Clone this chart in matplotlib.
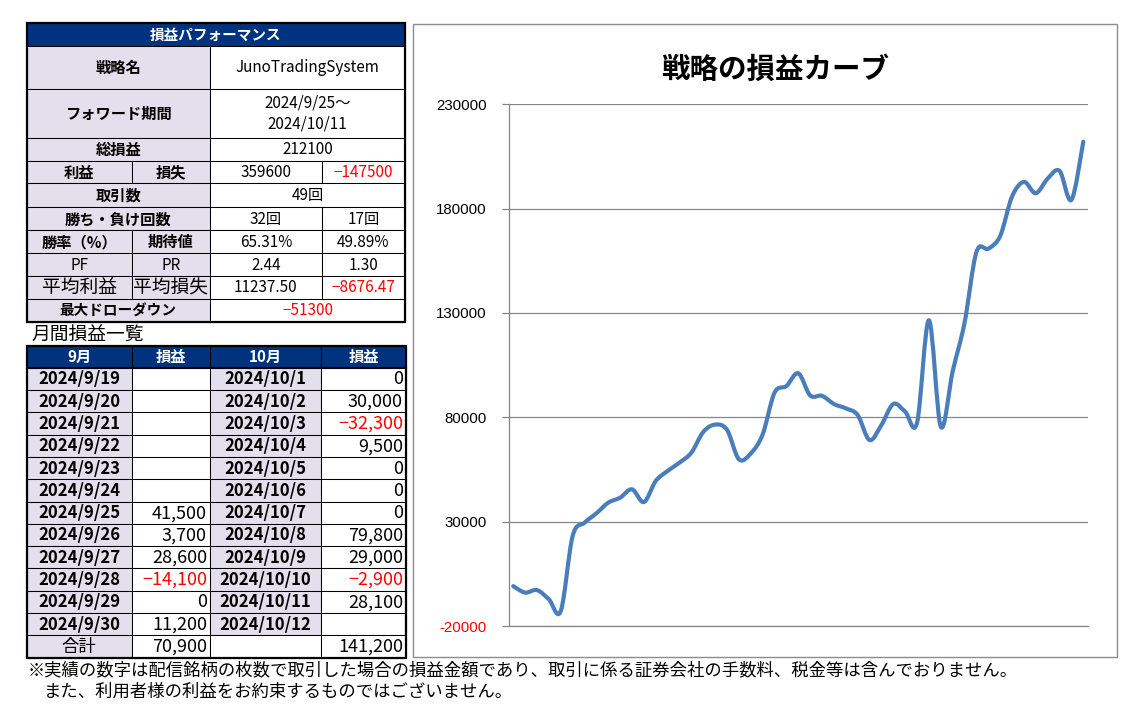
import numpy as np
import matplotlib
matplotlib.use('Agg')
import matplotlib.pyplot as plt
from matplotlib.patches import Rectangle, PathPatch
from matplotlib.path import Path

plt.rcParams['font.family'] = ['Noto Sans CJK JP', 'DejaVu Sans']

# ---- data ----
summary_title = '損益パフォーマンス'
strategy_name = 'JunoTradingSystem'
forward_period = '2024/9/25～\n2024/10/11'
total_pl = '212100'
profit, loss = '359600', '−147500'
n_trades = '49回'
wins, losses = '32回', '17回'
win_rate, expectancy = '65.31%', '49.89%'
pf, pr = '2.44', '1.30'
avg_profit, avg_loss = '11237.50', '−8676.47'
max_dd = '−51300'

sep_dates = ['2024/9/%d' % d for d in range(19, 31)]
sep_pl = [None, None, None, None, None, None, 41500, 3700, 28600, -14100, 0, 11200]
oct_dates = ['2024/10/%d' % d for d in range(1, 13)]
oct_pl = [0, 30000, -32300, 9500, 0, 0, 0, 79800, 29000, -2900, 28100, None]
sep_total, oct_total = 70900, 141200

# cumulative P&L per trade
equity = [-900, -4000, -2800, -7200, -12800, 23100, 29500, 34000, 39100, 41500,
          45500, 39400, 49500, 54300, 58300, 63100, 73000, 76500, 74000, 59900,
          62700, 71800, 91800, 95000, 101100, 90500, 90300, 86400, 84300, 81100,
          69100, 76300, 86400, 82700, 77400, 126500, 75500, 102000, 125300, 159200,
          160800, 166900, 185800, 192800, 187400, 194400, 198100, 184200, 212100]
yticks = [-20000, 30000, 80000, 130000, 180000, 230000]

NAVY = '#00337f'
LAV = '#e4dfec'
RED = '#ff0000'

W, H = 1126, 704
fig = plt.figure(figsize=(W / 100, H / 100), dpi=100)
bg = fig.add_axes([0, 0, 1, 1])
bg.set_xlim(0, W)
bg.set_ylim(H, 0)
bg.axis('off')


def cell(x0, x1, y0, y1, text='', fill='white', color='black', bold=False,
         size=11, ha='center'):
    bg.add_patch(Rectangle((x0, y0), x1 - x0, y1 - y0, facecolor=fill,
                           edgecolor='black', lw=0.75))
    if text == '':
        return
    if ha == 'center':
        tx = (x0 + x1) / 2
    elif ha == 'right':
        tx = x1 - 3
    else:
        tx = x0 + 6
    bg.text(tx, (y0 + y1) / 2 + 0.5, text, ha=ha, va='center', color=color,
            fontsize=size, fontweight='bold' if bold else 'normal',
            linespacing=1.3)


def fmt(v):
    if v is None:
        return ''
    return f'{v:,}'.replace('-', '−')


# ---- top summary table ----
X = [26.7, 131.7, 210, 321.7, 405]
Y = [22.5, 45.7, 89, 137.7, 160.7, 183.3, 207.3, 230, 253.3, 276, 299, 321.7]

cell(X[0], X[4], Y[0], Y[1], summary_title, NAVY, 'white', True, 10.5)
cell(X[0], X[2], Y[1], Y[2], '戦略名', LAV, bold=True)
cell(X[2], X[4], Y[1], Y[2], strategy_name)
cell(X[0], X[2], Y[2], Y[3], 'フォワード期間', LAV, bold=True)
cell(X[2], X[4], Y[2], Y[3], forward_period)
cell(X[0], X[2], Y[3], Y[4], '総損益', LAV, bold=True)
cell(X[2], X[4], Y[3], Y[4], total_pl)
cell(X[0], X[1], Y[4], Y[5], '利益', LAV, bold=True)
cell(X[1], X[2], Y[4], Y[5], '損失', LAV, bold=True)
cell(X[2], X[3], Y[4], Y[5], profit)
cell(X[3], X[4], Y[4], Y[5], loss, color=RED)
cell(X[0], X[2], Y[5], Y[6], '取引数', LAV, bold=True)
cell(X[2], X[4], Y[5], Y[6], n_trades)
cell(X[0], X[2], Y[6], Y[7], '勝ち・負け回数', LAV, bold=True)
cell(X[2], X[3], Y[6], Y[7], wins)
cell(X[3], X[4], Y[6], Y[7], losses)
cell(X[0], X[1], Y[7], Y[8], '勝率（%）', LAV, bold=True)
cell(X[1], X[2], Y[7], Y[8], '期待値', LAV, bold=True)
cell(X[2], X[3], Y[7], Y[8], win_rate)
cell(X[3], X[4], Y[7], Y[8], expectancy)
cell(X[0], X[1], Y[8], Y[9], 'PF', LAV)
cell(X[1], X[2], Y[8], Y[9], 'PR', LAV)
cell(X[2], X[3], Y[8], Y[9], pf)
cell(X[3], X[4], Y[8], Y[9], pr)
cell(X[0], X[1], Y[9], Y[10], '平均利益', LAV, size=13.5)
cell(X[1], X[2], Y[9], Y[10], '平均損失', LAV, size=13.5)
cell(X[2], X[3], Y[9], Y[10], avg_profit)
cell(X[3], X[4], Y[9], Y[10], avg_loss, color=RED)
cell(X[0], X[2], Y[10], Y[11], '最大ドローダウン', LAV, bold=True, size=10.5)
cell(X[2], X[4], Y[10], Y[11], max_dd, color=RED)
bg.add_patch(Rectangle((X[0], Y[0]), X[4] - X[0], Y[11] - Y[0], fill=False,
                       edgecolor='black', lw=1.6))

# ---- monthly table ----
bg.text(31, 335, '月間損益一覧', ha='left', va='center', fontsize=13.5)
MX = [26.7, 131.7, 210, 321, 406]
top, head_h, row_h = 345.7, 22, 22.3
cell(MX[0], MX[1], top, top + head_h, '9月', NAVY, 'white', True)
cell(MX[1], MX[2], top, top + head_h, '損益', NAVY, 'white', True)
cell(MX[2], MX[3], top, top + head_h, '10月', NAVY, 'white', True)
cell(MX[3], MX[4], top, top + head_h, '損益', NAVY, 'white', True)
y = top + head_h
for i in range(len(sep_dates)):
    cell(MX[0], MX[1], y, y + row_h, sep_dates[i], LAV, bold=True, size=12)
    cell(MX[1], MX[2], y, y + row_h, fmt(sep_pl[i]),
         color=RED if (sep_pl[i] or 0) < 0 else 'black', size=13, ha='right')
    cell(MX[2], MX[3], y, y + row_h, oct_dates[i], LAV, bold=True, size=12)
    cell(MX[3], MX[4], y, y + row_h, fmt(oct_pl[i]),
         color=RED if (oct_pl[i] or 0) < 0 else 'black', size=13, ha='right')
    y += row_h
cell(MX[0], MX[1], y, y + row_h, '合計', LAV, size=12.5)
cell(MX[1], MX[2], y, y + row_h, fmt(sep_total), size=13, ha='right')
cell(MX[2], MX[3], y, y + row_h)
cell(MX[3], MX[4], y, y + row_h, fmt(oct_total), size=13, ha='right')
bg.plot([MX[0], MX[4]], [top + head_h, top + head_h], color='black', lw=1.5)
bg.add_patch(Rectangle((MX[0], top), MX[4] - MX[0], y + row_h - top, fill=False,
                       edgecolor='black', lw=1.6))

bg.text(28, 670, '※実績の数字は配信銘柄の枚数で取引した場合の損益金額であり、取引に係る証券会社の手数料、税金等は含んでおりません。',
        ha='left', va='center', fontsize=12.5)
bg.text(44, 692, 'また、利用者様の利益をお約束するものではございません。',
        ha='left', va='center', fontsize=12.5)

# ---- chart ----
bg.add_patch(Rectangle((413.3, 24.3), 1116.7 - 413.3, 657.3 - 24.3,
                       facecolor='white', edgecolor='#8c8c8c', lw=1))
bg.text(775, 70, '戦略の損益カーブ', ha='center', va='center', fontsize=20.5,
        fontweight='bold')

ax = fig.add_axes([508.5 / W, 1 - 626 / H, (1088.3 - 508.5) / W, (626 - 104.3) / H])
ax.patch.set_alpha(0)

# smoothed line (Catmull-Rom style bezier, like Excel's smooth line)
xs = np.arange(len(equity), dtype=float)
ys = np.array(equity, dtype=float)
pts = np.column_stack([xs, ys])
ext = np.vstack([pts[0], pts, pts[-1]])
verts = [pts[0]]
codes = [Path.MOVETO]
for i in range(len(pts) - 1):
    c1 = pts[i] + (ext[i + 2] - ext[i]) / 6
    c2 = pts[i + 1] - (ext[i + 3] - ext[i + 1]) / 6
    verts += [c1, c2, pts[i + 1]]
    codes += [Path.CURVE4] * 3
ax.add_patch(PathPatch(Path(verts, codes), fill=False, edgecolor='#4a7ebb',
                       lw=3, capstyle='round', joinstyle='round', zorder=3))

ax.set_xlim(-0.4, len(equity) - 1 + 0.42)
ax.set_ylim(yticks[0], yticks[-1])
ax.set_yticks(yticks)
ax.set_yticklabels([str(t) for t in yticks], fontfamily='Liberation Sans', fontsize=10.8)
for lab, t in zip(ax.get_yticklabels(), yticks):
    lab.set_color(RED if t < 0 else 'black')
ax.set_xticks([])
ax.grid(axis='y', color='#868686', lw=0.9)
ax.set_axisbelow(True)
ax.tick_params(axis='y', length=5, width=0.9, color='#868686', pad=10.5)
for s in ['top', 'right']:
    ax.spines[s].set_visible(False)
for s in ['left', 'bottom']:
    ax.spines[s].set_color('#868686')
    ax.spines[s].set_linewidth(0.9)

fig.savefig('out.png', dpi=100)
